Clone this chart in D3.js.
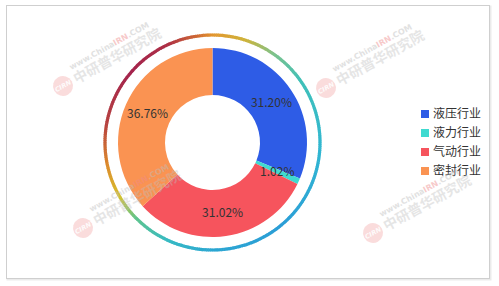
<!DOCTYPE html>
<html>
<head>
<meta charset="utf-8">
<script src="https://cdn.jsdelivr.net/npm/d3@7/dist/d3.min.js"></script>
<style>
  html, body { margin: 0; padding: 0; background: #fff; }
  svg { display: block; }
</style>
</head>
<body>
<div id="chart"></div>
<script>
// Industry shares (%)
const categories = ["液压行业", "液力行业", "气动行业", "密封行业"];
const values = [31.20, 1.02, 31.02, 36.76];
const colors = ["#2e5ce6", "#3fdad0", "#f6545d", "#fa9352"];

// Decorative ring colour stops, by angle clockwise from 12 o'clock
const ringStops = [
  [0, "#e3962e"], [18, "#cdb33a"], [35, "#7cc28c"], [55, "#3fc0b8"],
  [95, "#30b6d2"], [140, "#2a9dd6"], [180, "#2ba6d2"], [205, "#36bac2"],
  [225, "#5ec48e"], [240, "#d6c12a"], [258, "#dc8a2c"], [280, "#b6403f"],
  [310, "#a3224c"], [335, "#ad2e45"], [352, "#cf6a33"], [360, "#e3962e"]
];

const W = 499, H = 286;
const cx = 212.5, cy = 142.5;
const rOuter = 94.5, rInner = 47.5, rRing = 107.5;

const svg = d3.select("#chart").append("svg")
  .attr("width", W).attr("height", H);

// Panel frame
svg.append("rect")
  .attr("x", 7.5).attr("y", 6.5).attr("width", 483).attr("height", 273)
  .attr("fill", "none").attr("stroke", "#ebebeb").attr("stroke-width", 2);
svg.append("rect")
  .attr("x", 6.5).attr("y", 5.5).attr("width", 483).attr("height", 273)
  .attr("fill", "#fff").attr("stroke", "#cfcfcf").attr("stroke-width", 1);

const g = svg.append("g").attr("transform", `translate(${cx},${cy})`);

// Gradient ring drawn as thin arc steps
const ringColor = d3.scaleLinear()
  .domain(ringStops.map(d => d[0]))
  .range(ringStops.map(d => d[1]))
  .interpolate(d3.interpolateRgb);
const ringArc = d3.arc().innerRadius(rRing - 1.6).outerRadius(rRing + 1.6);
const steps = d3.range(0, 360, 1);
g.append("g").selectAll("path").data(steps).join("path")
  .attr("d", a => ringArc({ startAngle: a * Math.PI / 180, endAngle: (a + 1.3) * Math.PI / 180 }))
  .attr("fill", a => ringColor(a + 0.5));

// Donut
const pie = d3.pie().sort(null).value(d => d)(values);
const arc = d3.arc().innerRadius(rInner).outerRadius(rOuter);
const labelArc = d3.arc().innerRadius((rInner + rOuter) / 2).outerRadius((rInner + rOuter) / 2);

g.append("g").selectAll("path").data(pie).join("path")
  .attr("d", arc)
  .attr("fill", (d, i) => colors[i]);

g.append("g").selectAll("text").data(pie).join("text")
  .attr("transform", d => `translate(${labelArc.centroid(d)})`)
  .attr("text-anchor", "middle")
  .attr("dy", "0.36em")
  .attr("font-family", "'Noto Sans CJK SC', 'Noto Sans', sans-serif")
  .attr("font-size", 12)
  .attr("fill", "#333")
  .text(d => d.data.toFixed(2) + "%");

// Legend
const legend = svg.append("g").attr("transform", "translate(421,114)");
const item = legend.selectAll("g").data(categories).join("g")
  .attr("transform", (d, i) => `translate(0,${i * 19})`);
item.append("rect")
  .attr("x", 0).attr("y", -4).attr("width", 8).attr("height", 8)
  .attr("fill", (d, i) => colors[i]);
item.append("text")
  .attr("x", 12).attr("dy", "0.36em")
  .attr("font-family", "'Noto Sans CJK SC', sans-serif")
  .attr("font-size", 12)
  .attr("fill", "#333")
  .text(d => d);

// Publisher watermarks
const marks = [[63, 86], [83, 228], [326, 88], [373, 233]];
const wm = svg.append("g").attr("pointer-events", "none");
marks.forEach(([x, y]) => {
  const m = wm.append("g").attr("transform", `translate(${x},${y}) rotate(-29)`);
  m.append("circle").attr("r", 10).attr("fill", "#f2a7a7").attr("opacity", 0.4);
  m.append("text").attr("text-anchor", "middle").attr("dy", "0.35em")
    .attr("font-family", "'DejaVu Sans', sans-serif").attr("font-weight", "bold")
    .attr("font-style", "italic").attr("font-size", 6.5)
    .attr("fill", "#fff").attr("opacity", 0.9).text("CIRN");
  m.append("text").attr("x", 13).attr("y", 5)
    .attr("font-family", "'Noto Sans CJK SC', sans-serif").attr("font-weight", "bold")
    .attr("font-size", 14).attr("fill", "#bdbdbd").attr("opacity", 0.38)
    .text("中研普华研究院");
  const w = m.append("text").attr("x", 15).attr("y", -10)
    .attr("font-family", "'DejaVu Sans', sans-serif").attr("font-weight", "bold")
    .attr("font-size", 8).attr("fill", "#bdbdbd").attr("opacity", 0.45);
  w.append("tspan").text("www.China");
  w.append("tspan").attr("fill", "#ee8a8a").text("IRN");
  w.append("tspan").text(".COM");
});
</script>
</body>
</html>
